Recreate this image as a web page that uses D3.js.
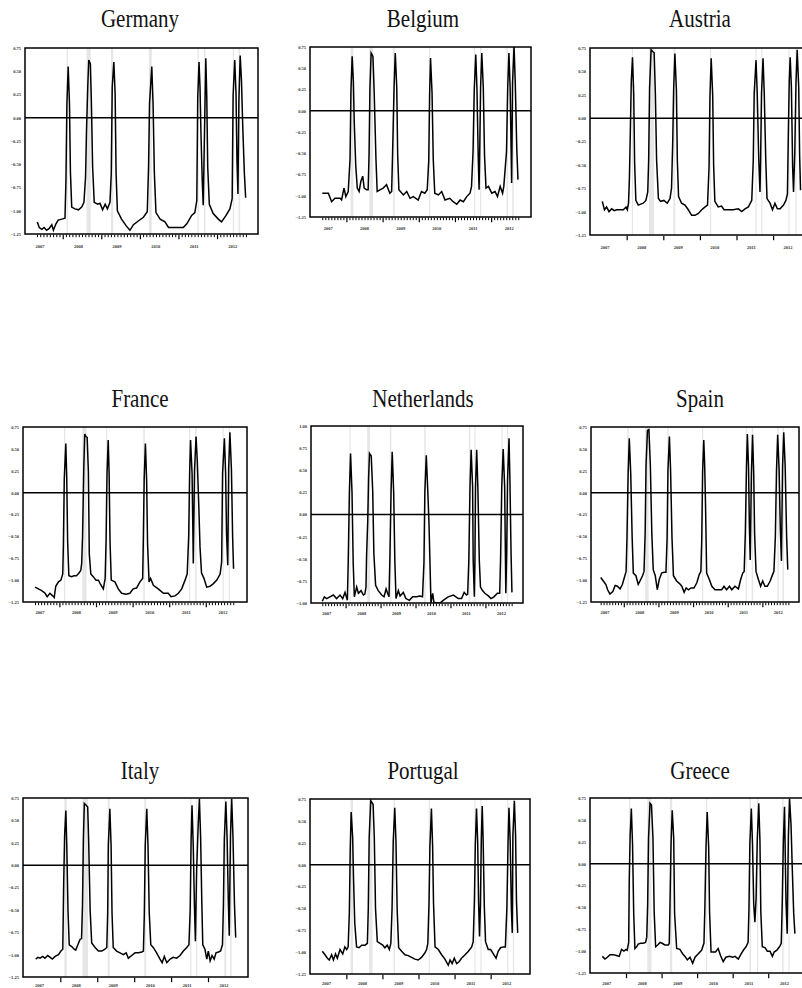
<!DOCTYPE html>
<html>
<head>
<meta charset="utf-8">
<script src="https://cdn.jsdelivr.net/npm/d3@7"></script>
<style>
  html, body { margin: 0; padding: 0; background: #fff; }
  svg { display: block; }
</style>
</head>
<body>
<svg id="chart" width="802" height="988"></svg>
<script>
// ---------- DATA (t = months since 2007M01, value) ----------
const years = ["2007", "2008", "2009", "2010", "2011", "2012"];
const yTicksStd = [0.75, 0.5, 0.25, 0, -0.25, -0.5, -0.75, -1.0, -1.25];
const yTicksNL = [1.0, 0.75, 0.5, 0.25, 0, -0.25, -0.5, -0.75, -1.0];

const germany = [[0.1,-1.12],[0.7,-1.18],[1.5,-1.20],[2.2,-1.18],[3.0,-1.21],[3.8,-1.19],[4.6,-1.15],[5.1,-1.21],[5.9,-1.14],[6.6,-1.10],[7.7,-1.09],[8.7,-1.08],
 [9.0,-0.68],[9.3,0.15],[9.7,0.55],[10.1,0.15],[10.4,-0.59],[10.8,-0.96],[11.8,-0.98],[12.9,-0.99],[13.9,-0.96],[14.6,-0.91],
 [15.1,-0.64],[15.4,-0.14],[15.8,0.35],[16.1,0.62],[16.6,0.58],[16.9,0.19],[17.3,-0.53],[17.8,-0.91],[18.9,-0.93],[19.6,-0.92],[20.4,-0.99],[21.2,-0.93],[21.9,-0.98],[22.7,-0.91],
 [23.1,-0.60],[23.4,0.33],[23.9,0.60],[24.3,0.26],[24.6,-0.60],[25.0,-1.00],[26.3,-1.09],[27.7,-1.16],[28.9,-1.21],[30.0,-1.15],[31.5,-1.11],[33.1,-1.07],[34.3,-1.01],
 [34.7,-0.53],[35.0,0.15],[35.7,0.55],[36.1,0.15],[36.5,-0.59],[37.0,-1.02],[38.3,-1.09],[39.8,-1.12],[40.9,-1.18],[42.4,-1.18],[44.0,-1.18],[45.5,-1.18],[46.6,-1.14],[48.1,-1.05],[49.1,-1.02],[49.7,-0.89],
 [50.0,0.22],[50.4,0.60],[50.7,0.33],[51.0,-0.17],[51.4,-0.68],[51.7,-0.94],[52.0,-0.35],[52.5,0.64],[52.8,0.24],[53.1,-0.53],[53.6,-0.93],
 [54.8,-1.03],[56.4,-1.09],[57.4,-1.12],[58.8,-1.05],[60.0,-0.98],[60.7,-0.87],
 [61.0,0.24],[61.5,0.62],[61.9,0.26],[62.2,-0.46],[62.5,-0.82],[62.8,0.19],[63.2,0.67],[63.6,0.40],[64.0,-0.10],[64.5,-0.60],[64.9,-0.86]];

const belgium = [[0,-0.97],[2.0,-0.97],[3.1,-1.07],[4.2,-1.03],[5.9,-1.03],[6.4,-1.05],[7.2,-0.91],[7.8,-1.01],[8.6,-0.95],
 [9.2,-0.57],[9.5,0.23],[9.9,0.64],[10.3,0.35],[10.6,-0.14],[11.1,-0.65],[11.6,-0.91],[12.2,-0.95],[12.8,-0.83],[13.4,-0.77],[13.9,-0.91],[14.7,-0.93],[15.2,-0.93],
 [15.5,-0.53],[15.8,0.27],[16.2,0.68],[16.8,0.64],[17.2,0.23],[17.8,-0.57],[18.2,-0.95],[19.1,-0.93],[20.2,-0.91],[21.3,-0.87],[22.4,-0.97],[23.0,-0.95],
 [23.3,-0.52],[23.8,0.27],[24.2,0.68],[24.7,0.27],[25.0,-0.52],[25.4,-0.93],[26.9,-0.99],[28.0,-0.95],[29.1,-1.03],[30.2,-1.01],[31.8,-1.05],[32.9,-0.95],[34.0,-0.97],[34.8,-0.93],
 [35.3,-0.59],[35.6,0.21],[35.9,0.62],[36.4,0.21],[36.8,-0.57],[37.3,-0.97],[38.5,-0.99],[39.6,-0.95],[40.7,-1.05],[42.3,-1.03],[43.4,-1.07],[44.6,-1.10],[45.7,-1.05],[46.8,-1.07],[47.9,-1.01],[49.0,-0.97],[49.5,-0.89],
 [50.0,-0.48],[50.4,0.25],[50.9,0.66],[51.3,0.25],[51.7,-0.52],[52.0,-0.93],[52.2,-0.50],[52.5,0.27],[52.9,0.68],[53.4,0.27],[53.8,-0.52],[54.3,-0.91],
 [55.1,-0.89],[56.2,-0.97],[57.3,-0.95],[58.1,-1.01],[59.0,-0.89],[59.8,-0.97],[60.2,-0.89],
 [61.1,-0.48],[61.5,0.27],[61.9,0.68],[62.3,0.27],[62.8,-0.85],[63.1,0.33],[63.6,0.76],[64.0,0.33],[64.5,-0.44],[64.9,-0.81]];

const austria = [[0,-0.89],[0.7,-0.98],[1.4,-0.95],[2.2,-1.00],[3.1,-0.97],[3.9,-0.99],[4.7,-0.98],[5.8,-0.98],[6.9,-0.98],[7.8,-0.95],[8.2,-0.98],[8.6,-0.91],
 [8.9,-0.63],[9.2,-0.13],[9.5,0.39],[9.9,0.65],[10.3,0.26],[10.6,-0.48],[11.0,-0.88],[11.8,-0.93],[12.6,-0.92],[13.4,-0.91],[14.3,-0.88],[14.9,-0.79],
 [15.2,-0.45],[15.5,0.32],[16.0,0.73],[16.6,0.71],[17.0,0.70],[17.4,0.26],[17.8,-0.45],[18.4,-0.86],[19.1,-0.89],[20.2,-0.88],[21.3,-0.91],[22.2,-0.86],[22.7,-0.75],
 [23.1,-0.24],[23.4,0.32],[23.8,0.69],[24.3,0.30],[24.6,-0.45],[25.0,-0.84],[26.0,-0.91],[27.1,-0.93],[28.2,-0.98],[29.3,-1.04],[30.4,-1.04],[31.5,-1.02],[32.6,-0.98],[33.7,-0.95],[34.5,-0.93],
 [35.0,-0.52],[35.3,0.24],[35.7,0.64],[36.2,0.24],[36.5,-0.50],[36.9,-0.89],[38.0,-0.95],[39.1,-0.94],[39.9,-0.98],[41.3,-0.98],[42.9,-0.98],[44.6,-0.97],[45.7,-1.00],[46.8,-0.97],[47.9,-0.95],[49.0,-0.88],
 [49.5,-0.45],[49.8,0.26],[50.4,0.62],[50.8,0.26],[51.3,-0.45],[51.7,-0.79],[51.9,-0.45],[52.2,0.26],[52.7,0.64],[53.1,0.26],[53.6,-0.45],[54.0,-0.86],
 [55.0,-0.91],[55.8,-0.98],[56.6,-0.91],[57.4,-0.97],[58.3,-0.97],[59.4,-0.93],[60.2,-0.88],[60.7,-0.81],
 [61.0,-0.16],[61.3,0.40],[61.6,0.65],[62.0,0.33],[62.4,-0.52],[62.7,-0.79],[63.1,-0.38],[63.5,0.37],[63.9,0.73],[64.4,0.33],[64.7,-0.40],[65.0,-0.77]];

const france = [[0,-1.08],[1.1,-1.10],[2.2,-1.12],[3.3,-1.15],[4.0,-1.19],[4.9,-1.15],[5.8,-1.18],[6.3,-1.20],[6.8,-1.07],[7.7,-1.02],[8.5,-1.00],[9.1,-0.93],
 [9.3,-0.62],[9.6,0.16],[10.1,0.56],[10.4,0.18],[10.7,-0.56],[11.1,-0.95],[12.0,-0.96],[12.8,-0.95],[13.6,-0.95],[14.4,-0.92],[15.0,-0.89],[15.3,-0.81],
 [15.6,-0.49],[16.0,0.29],[16.3,0.67],[16.7,0.64],[17.1,0.63],[17.5,0.24],[17.8,-0.70],[18.3,-0.93],[19.1,-0.96],[20.0,-1.00],[20.8,-1.00],[21.5,-1.05],[22.4,-1.10],[23.0,-0.98],
 [23.3,-0.56],[23.6,0.20],[24.0,0.60],[24.3,0.22],[24.6,-0.56],[25.0,-1.00],[26.2,-1.02],[27.3,-1.10],[28.4,-1.15],[29.8,-1.16],[31.1,-1.15],[32.2,-1.10],[33.3,-1.09],[34.4,-1.02],[35.3,-0.98],
 [35.5,-0.58],[35.8,0.16],[36.2,0.56],[36.6,0.14],[36.9,-0.58],[37.4,-1.02],[37.9,-0.98],[38.8,-1.06],[40.4,-1.10],[42.1,-1.15],[43.7,-1.15],[44.6,-1.19],[45.9,-1.18],[47.0,-1.15],[48.1,-1.10],[49.2,-1.00],[49.9,-0.93],
 [50.4,-0.49],[50.7,0.22],[51.0,0.60],[51.5,0.22],[51.9,-0.81],[52.3,0.25],[52.8,0.64],[53.2,0.37],[53.7,-0.15],[54.1,-0.62],[54.6,-0.92],
 [55.4,-0.98],[56.3,-1.08],[57.4,-1.07],[58.5,-1.04],[59.6,-1.00],[60.7,-0.93],[61.2,-0.79],
 [61.5,0.22],[62.1,0.62],[62.5,0.22],[62.8,-0.47],[63.2,-0.83],[63.5,0.27],[63.9,0.69],[64.4,0.27],[64.8,-0.51],[65.1,-0.87]];

const netherlands = [[0,-0.98],[0.7,-0.93],[1.5,-0.95],[2.6,-0.93],[3.8,-0.91],[4.9,-0.95],[6.1,-0.91],[7.0,-0.95],[7.8,-0.88],[8.6,-0.97],
 [8.9,-0.54],[9.3,0.25],[9.7,0.69],[10.2,0.25],[10.6,-0.54],[11.0,-0.93],[11.8,-0.82],[12.4,-0.89],[13.3,-0.86],[14.1,-0.91],[14.6,-0.90],[15.0,-0.82],
 [15.2,-0.46],[15.6,-0.07],[15.9,0.42],[16.2,0.69],[16.8,0.66],[17.3,0.27],[17.7,-0.44],[18.3,-0.80],[19.2,-0.86],[20.4,-0.91],[21.2,-0.93],[21.9,-0.84],[22.4,-0.89],[22.9,-0.93],
 [23.2,-0.50],[23.6,0.25],[24.0,0.71],[24.5,0.25],[24.9,-0.52],[25.3,-0.95],[26.1,-0.86],[26.7,-0.92],[27.8,-0.88],[28.7,-0.95],[29.9,-0.97],[31.0,-0.93],[32.4,-0.93],[33.5,-0.92],[34.4,-0.93],
 [34.9,-0.54],[35.2,0.25],[35.7,0.67],[36.2,0.27],[36.6,-0.07],[37.0,-0.59],[37.3,-1.00],[37.9,-0.89],[38.3,-0.99],[39.2,-1.00],[40.4,-1.00],[41.5,-0.97],[43.2,-0.93],[45.0,-0.91],[46.7,-0.95],[47.8,-0.95],[48.7,-0.88],[49.5,-0.91],[49.9,-0.90],
 [50.3,-0.52],[50.7,0.31],[51.1,0.73],[51.6,0.31],[51.8,-0.52],[52.2,-0.93],[52.4,-0.52],[52.6,0.31],[53.0,0.73],[53.4,0.31],[53.9,-0.52],[54.3,-0.82],
 [55.0,-0.86],[55.8,-0.89],[57.0,-0.92],[57.9,-0.95],[58.9,-0.93],[60.1,-0.89],[60.9,-0.89],
 [61.2,-0.50],[61.6,0.31],[62.1,0.74],[62.6,0.31],[63.0,-0.89],[63.3,-0.44],[63.6,0.40],[64.1,0.86],[64.4,0.40],[64.8,-0.44],[65.1,-0.88]];

const spain = [[0,-0.97],[0.9,-1.01],[1.8,-1.05],[2.4,-1.11],[3.2,-1.16],[4.2,-1.13],[5.0,-1.06],[5.8,-1.07],[6.7,-1.10],[7.5,-1.05],[8.2,-0.97],[8.8,-0.90],
 [9.1,-0.52],[9.5,0.22],[9.9,0.62],[10.4,0.22],[10.9,-0.52],[11.3,-0.92],[12.2,-0.95],[13.0,-1.05],[13.9,-0.99],[14.5,-0.95],[15.0,-0.90],
 [15.4,-0.46],[15.7,0.31],[16.2,0.71],[16.7,0.72],[17.2,0.31],[17.7,-0.46],[18.2,-0.88],[18.9,-0.95],[19.6,-1.11],[20.3,-0.99],[21.1,-0.92],[21.9,-0.91],[22.6,-0.91],
 [23.0,-0.52],[23.3,0.26],[23.8,0.64],[24.2,0.26],[24.7,-0.52],[25.2,-0.95],[26.3,-1.01],[27.3,-1.04],[28.1,-1.07],[28.9,-1.14],[29.6,-1.09],[30.4,-1.11],[31.3,-1.09],[32.3,-1.09],[33.3,-1.03],[34.1,-0.94],[34.7,-0.90],
 [35.0,-0.54],[35.3,0.24],[35.7,0.60],[36.0,0.33],[36.3,-0.12],[36.7,-0.92],[37.6,-0.99],[38.5,-1.07],[39.6,-1.11],[40.8,-1.11],[41.9,-1.11],[42.7,-1.07],[43.6,-1.11],[44.6,-1.07],[45.4,-1.11],[46.5,-1.07],[47.7,-1.10],[48.5,-0.99],[49.2,-0.92],[49.7,-0.90],
 [50.1,-0.46],[50.5,0.30],[50.8,0.67],[51.2,0.30],[51.5,-0.39],[51.8,-0.77],[52.2,0.22],[52.6,0.66],[53.0,0.22],[53.3,-0.46],[53.8,-0.90],
 [54.6,-0.99],[55.4,-1.07],[56.1,-1.01],[56.9,-1.07],[57.7,-1.07],[58.7,-1.01],[59.5,-0.94],[60.0,-0.90],
 [60.5,-0.50],[60.9,0.26],[61.3,0.66],[61.8,0.26],[62.2,-0.39],[62.6,-0.78],[63.0,0.31],[63.4,0.69],[63.9,0.30],[64.4,-0.50],[64.8,-0.88]];

const italy = [[0,-1.05],[0.7,-1.03],[1.4,-1.04],[2.3,-1.02],[3.0,-1.04],[3.9,-1.01],[4.7,-1.03],[5.4,-1.05],[6.3,-1.02],[7.4,-1.00],[8.2,-0.96],[8.8,-0.94],
 [9.1,-0.19],[9.4,0.33],[9.8,0.61],[10.1,0.22],[10.5,-0.51],[10.9,-0.89],[11.7,-0.91],[12.5,-0.94],[13.0,-0.95],[13.7,-0.89],[14.4,-0.83],[14.9,-0.82],
 [15.2,-0.46],[15.5,0.29],[15.8,0.69],[16.4,0.67],[16.9,0.65],[17.2,0.29],[17.7,-0.51],[18.2,-0.87],[19.3,-0.92],[20.4,-0.96],[21.5,-0.96],[22.5,-0.94],[23.1,-0.92],
 [23.4,-0.53],[23.6,0.22],[24.1,0.63],[24.5,0.22],[24.8,-0.53],[25.2,-0.92],[26.3,-0.96],[27.4,-0.98],[28.5,-1.00],[29.4,-0.98],[30.1,-1.04],[31.2,-1.01],[32.3,-0.98],[33.4,-0.98],[34.5,-0.97],[35.0,-0.96],
 [35.3,-0.55],[35.6,0.22],[36.1,0.63],[36.5,0.22],[36.9,-0.53],[37.4,-0.89],[38.2,-0.92],[39.3,-0.98],[40.4,-1.05],[41.1,-1.09],[41.8,-1.02],[42.6,-1.09],[43.7,-1.05],[44.7,-1.03],[45.8,-1.04],[46.9,-1.01],[48.0,-0.96],[49.1,-0.92],[49.8,-0.89],
 [50.2,-0.51],[50.5,0.26],[50.8,0.67],[51.2,0.22],[51.6,-0.47],[51.9,-0.85],[52.3,-0.06],[52.8,0.44],[53.2,0.74],[53.6,0.31],[54.0,-0.44],[54.3,-0.89],
 [55.0,-0.94],[55.6,-1.05],[56.1,-0.96],[56.7,-1.07],[57.3,-1.01],[58.0,-1.05],[58.6,-0.98],[59.4,-0.97],[60.1,-0.96],[60.7,-0.89],
 [61.0,-0.46],[61.3,0.29],[61.8,0.71],[62.2,0.31],[62.6,-0.40],[62.9,-0.79],[63.3,0.33],[63.7,0.74],[64.1,0.33],[64.6,-0.44],[65.0,-0.81]];

const portugal = [[0,-0.99],[0.9,-1.03],[1.7,-1.07],[2.3,-1.09],[3.1,-1.03],[3.7,-1.09],[4.4,-1.02],[5.0,-1.07],[5.9,-0.97],[6.8,-1.02],[7.5,-0.94],[8.1,-0.97],[8.6,-0.94],
 [9.0,-0.55],[9.3,0.19],[9.6,0.60],[10.1,0.31],[10.4,-0.17],[10.8,-0.67],[11.4,-0.94],[12.2,-0.95],[13.1,-0.92],[14.2,-0.92],[15.0,-0.90],
 [15.3,-0.50],[15.6,0.31],[16.1,0.73],[16.5,0.71],[16.9,0.69],[17.3,0.31],[17.7,-0.50],[18.3,-0.88],[19.2,-0.90],[20.1,-0.92],[20.8,-0.95],[21.6,-0.92],[22.3,-0.97],[22.8,-0.90],
 [23.2,-0.51],[23.6,0.27],[24.1,0.65],[24.5,0.27],[24.9,-0.51],[25.4,-0.95],[26.4,-0.99],[27.5,-1.03],[28.6,-1.04],[29.7,-1.06],[30.8,-1.08],[31.9,-1.09],[33.0,-1.06],[34.1,-1.01],[34.7,-0.97],[35.1,-0.90],
 [35.5,-0.44],[35.8,0.21],[36.3,0.64],[36.7,0.21],[37.0,-0.44],[37.5,-0.94],[38.6,-0.97],[39.7,-1.03],[40.8,-1.08],[41.9,-1.15],[42.5,-1.09],[43.2,-1.13],[43.9,-1.07],[44.7,-1.13],[45.5,-1.11],[46.3,-1.07],[47.5,-1.03],[48.6,-0.99],[49.7,-0.94],[50.2,-0.88],
 [50.6,-0.42],[50.9,0.23],[51.3,0.64],[51.7,0.25],[52.0,-0.44],[52.3,-0.82],[52.6,-0.46],[52.9,0.29],[53.2,0.67],[53.5,0.29],[53.9,-0.48],[54.3,-0.88],
 [55.2,-0.97],[56.0,-0.97],[56.9,-1.02],[57.8,-1.07],[58.5,-0.99],[59.3,-0.95],[60.2,-0.94],[60.9,-0.94],
 [61.4,-0.50],[61.8,0.27],[62.1,0.65],[62.5,0.27],[62.9,-0.51],[63.2,-0.78],[63.4,0.33],[63.9,0.73],[64.3,0.33],[64.6,-0.42],[65.0,-0.78]];

const greece = [[0,-1.06],[0.9,-1.09],[1.7,-1.07],[2.6,-1.04],[3.7,-1.04],[4.8,-1.05],[5.7,-1.06],[6.5,-0.98],[7.3,-1.00],[8.0,-0.98],[8.4,-0.99],[8.9,-0.90],
 [9.1,-0.19],[9.4,0.32],[9.8,0.63],[10.2,0.23],[10.6,-0.57],[11.0,-0.97],[11.6,-0.95],[12.1,-0.92],[12.9,-0.91],[13.8,-0.91],[14.6,-0.90],[15.0,-0.84],
 [15.3,-0.48],[15.6,0.29],[16.1,0.69],[16.6,0.67],[17.1,0.29],[17.5,-0.55],[18.0,-0.95],[18.7,-0.93],[19.5,-0.90],[20.2,-0.91],[21.1,-0.93],[22.3,-0.93],[22.6,-0.91],
 [22.8,-0.55],[23.2,0.23],[23.6,0.61],[24.1,0.29],[24.4,-0.57],[25.1,-0.97],[26.2,-0.98],[27.1,-1.03],[27.9,-1.06],[28.7,-1.10],[29.6,-1.07],[30.5,-1.14],[31.3,-1.07],[32.4,-1.03],[33.5,-0.99],[34.3,-0.91],
 [34.6,-0.53],[35.0,0.19],[35.4,0.59],[35.9,0.19],[36.2,-0.55],[36.7,-1.01],[37.5,-1.01],[38.2,-1.01],[39.1,-0.97],[39.9,-1.05],[40.8,-1.12],[41.7,-1.07],[42.9,-1.06],[44.0,-1.07],[44.8,-1.06],[45.9,-1.09],[46.7,-1.04],[47.6,-0.99],[48.5,-0.95],[49.2,-0.90],
 [49.5,-0.51],[49.8,0.23],[50.3,0.63],[50.7,0.21],[51.1,-0.46],[51.5,-0.67],[51.9,-0.40],[52.3,0.27],[52.8,0.69],[53.2,0.27],[53.5,-0.55],[54.0,-0.95],
 [54.9,-0.96],[55.7,-1.00],[56.6,-1.00],[57.4,-1.06],[58.0,-1.01],[58.9,-0.99],[59.8,-0.95],[60.4,-0.91],
 [60.7,-0.50],[61.1,0.25],[61.5,0.65],[62.0,-0.44],[62.4,-0.80],[62.8,0.32],[63.2,0.74],[63.7,0.44],[64.1,-0.04],[64.6,-0.57],[65.0,-0.80]];

// shaded event months [start, end] per country
const germanyBands = [[9.2,9.6],[15.4,16.7],[23.0,23.7],[34.8,35.7],[49.9,50.3],[51.9,52.4],[60.9,61.3],[62.7,63.2]];
const belgiumBands = [[9.4,10.3],[15.6,16.8],[23.5,24.0],[35.4,35.8],[50.3,50.7],[52.3,52.7],[61.1,61.6],[63.0,63.5]];
const austriaBands = [[9.7,10.1],[15.3,17.0],[23.3,23.9],[35.3,35.6],[50.2,50.5],[52.1,52.5],[61.0,61.3],[63.3,63.6]];
const franceBands = [[9.5,9.9],[15.5,16.9],[23.3,23.7],[35.5,36.0],[50.5,50.9],[52.5,53.0],[61.5,61.9],[63.5,63.9]];
const netherlandsBands = [[9.3,9.7],[15.4,16.4],[23.2,23.7],[35.0,35.5],[50.3,50.8],[52.2,52.6],[61.5,61.9],[63.4,63.8]];
const spainBands = [[9.2,9.7],[15.4,16.6],[23.1,23.6],[35.1,35.5],[50.2,50.6],[52.3,52.8],[61.2,61.7],[63.0,63.5]];
const italyBands = [[9.3,10.1],[15.2,17.0],[23.4,24.0],[35.3,35.9],[50.2,50.6],[52.1,52.5],[61.3,61.9],[63.2,63.7]];
const portugalBands = [[9.4,10.2],[15.6,16.7],[23.7,24.2],[35.4,35.8],[50.6,51.0],[52.6,52.9],[61.5,61.9],[63.4,63.6]];
const greeceBands = [[9.0,9.4],[15.2,16.6],[22.8,23.6],[35.0,35.3],[49.7,50.2],[52.2,52.6],[60.7,61.2],[62.8,63.2]];

// ---------- LAYOUT ----------
const panels = [
  {name:"Germany", data:germany, bands:germanyBands, box:[25,48,258,234], x0:37, pxm:3.215, dom:[-1.25,0.75], ticks:yTicksStd, minor:true, labT:0.9, labY:247, tx:140, ty:21},
  {name:"Belgium", data:belgium, bands:belgiumBands, box:[310,47,531,217], x0:322.3, pxm:3.015, dom:[-1.25,0.75], ticks:yTicksStd, minor:true, labT:2.0, labY:229, tx:423, ty:21},
  {name:"Austria", data:austria, bands:austriaBands, box:[590,48,812,235], x0:602.3, pxm:3.05, dom:[-1.25,0.75], ticks:yTicksStd, minor:false, labT:0.9, labY:248, tx:700, ty:21},
  {name:"France", data:france, bands:franceBands, box:[23,427,247,602], x0:35, pxm:3.05, dom:[-1.25,0.75], ticks:yTicksStd, minor:true, labT:1.6, labY:613, tx:140, ty:401},
  {name:"Netherlands", data:netherlands, bands:netherlandsBands, box:[311,426,523,603], x0:322.3, pxm:2.913, dom:[-1.0,1.0], ticks:yTicksNL, minor:true, labT:1.5, labY:614, tx:423, ty:401},
  {name:"Spain", data:spain, bands:spainBands, box:[591,427,799,602], x0:600.7, pxm:2.887, dom:[-1.25,0.75], ticks:yTicksStd, minor:true, labT:1.5, labY:613, tx:700, ty:401},
  {name:"Italy", data:italy, bands:italyBands, box:[23,798,248,977], x0:35.7, pxm:3.077, dom:[-1.25,0.75], ticks:yTicksStd, minor:false, labT:1.2, labY:986, tx:140, ty:773},
  {name:"Portugal", data:portugal, bands:portugalBands, box:[310,799,530,974], x0:322.3, pxm:3.006, dom:[-1.25,0.75], ticks:yTicksStd, minor:false, labT:1.4, labY:984, tx:423, ty:773},
  {name:"Greece", data:greece, bands:greeceBands, box:[590,798,812,973], x0:602.3, pxm:2.963, dom:[-1.25,0.75], ticks:yTicksStd, minor:false, labT:1.5, labY:984, tx:700, ty:773}
];

const svg = d3.select("#chart");
const fmt = v => (Math.abs(v) < 1e-9 ? "0.00" : d3.format(".2f")(v));

panels.forEach((p, i) => {
  const [bx0, by0, bx1, by1] = p.box;
  const x = d3.scaleLinear().domain([0, 65]).range([p.x0, p.x0 + 65 * p.pxm]);
  const y = d3.scaleLinear().domain(p.dom).range([by1, by0]);
  const g = svg.append("g");

  const clipId = "clip" + i;
  g.append("clipPath").attr("id", clipId).append("rect")
    .attr("x", bx0).attr("y", by0).attr("width", bx1 - bx0).attr("height", by1 - by0);

  // title
  g.append("text")
    .attr("transform", `translate(${p.tx},${p.ty}) scale(1,1.15)`)
    .attr("text-anchor", "middle")
    .attr("dominant-baseline", "middle")
    .style("font-family", "'Liberation Serif', 'Times New Roman', serif")
    .style("font-size", "21px")
    .style("fill", "#111")
    .text(p.name);

  // shaded bands
  g.append("g").attr("clip-path", `url(#${clipId})`)
    .selectAll("rect").data(p.bands).join("rect")
    .attr("x", d => x(d[0]))
    .attr("width", d => Math.max(1.2, x(d[1]) - x(d[0])))
    .attr("y", by0).attr("height", by1 - by0)
    .attr("fill", "#e6e6e6");

  // zero line
  g.append("line")
    .attr("x1", bx0).attr("x2", bx1)
    .attr("y1", y(0)).attr("y2", y(0))
    .attr("stroke", "#000").attr("stroke-width", 1.5);

  // series
  const line = d3.line().x(d => x(d[0])).y(d => y(d[1]));
  g.append("path")
    .datum(p.data)
    .attr("clip-path", `url(#${clipId})`)
    .attr("d", line)
    .attr("fill", "none")
    .attr("stroke", "#000")
    .attr("stroke-width", 1.5)
    .attr("stroke-linejoin", "miter");

  // box
  g.append("rect")
    .attr("x", bx0).attr("y", by0)
    .attr("width", bx1 - bx0).attr("height", by1 - by0)
    .attr("fill", "none").attr("stroke", "#000").attr("stroke-width", 1.5);

  // y axis labels
  const yAxis = d3.axisLeft(y).tickValues(p.ticks).tickSize(0).tickPadding(4)
    .tickFormat(fmt);
  const ya = g.append("g").attr("transform", `translate(${bx0},0)`).call(yAxis);
  ya.select(".domain").remove();
  ya.selectAll("text")
    .style("font-family", "'Liberation Serif', serif")
    .style("font-size", "4.5px")
    .style("font-weight", "bold")
    .style("fill", "#333");

  // x ticks
  const months = d3.range(0, 66);
  const majors = [8, 20, 32, 44, 56];
  if (p.minor) {
    const minorAxis = d3.axisBottom(x).tickValues(months.filter(m => !majors.includes(m)))
      .tickSize(2.5).tickFormat("");
    const ma = g.append("g").attr("transform", `translate(0,${by1 + 0.7})`).call(minorAxis);
    ma.select(".domain").remove();
    ma.selectAll("line").attr("stroke", "#000").attr("stroke-width", 1);
  }
  const majorAxis = d3.axisBottom(x).tickValues(majors).tickSize(4.5).tickFormat("");
  const mj = g.append("g").attr("transform", `translate(0,${by1 + 0.7})`).call(majorAxis);
  mj.select(".domain").remove();
  mj.selectAll("line").attr("stroke", "#000").attr("stroke-width", 1.2);

  // year labels
  g.append("g").selectAll("text").data(years).join("text")
    .attr("x", (d, k) => x(p.labT + 12 * k))
    .attr("y", p.labY)
    .attr("text-anchor", "middle")
    .attr("dominant-baseline", "middle")
    .style("font-family", "'Liberation Serif', serif")
    .style("font-size", "4.5px")
    .style("font-weight", "bold")
    .style("fill", "#333")
    .text(d => d);
});
</script>
</body>
</html>
